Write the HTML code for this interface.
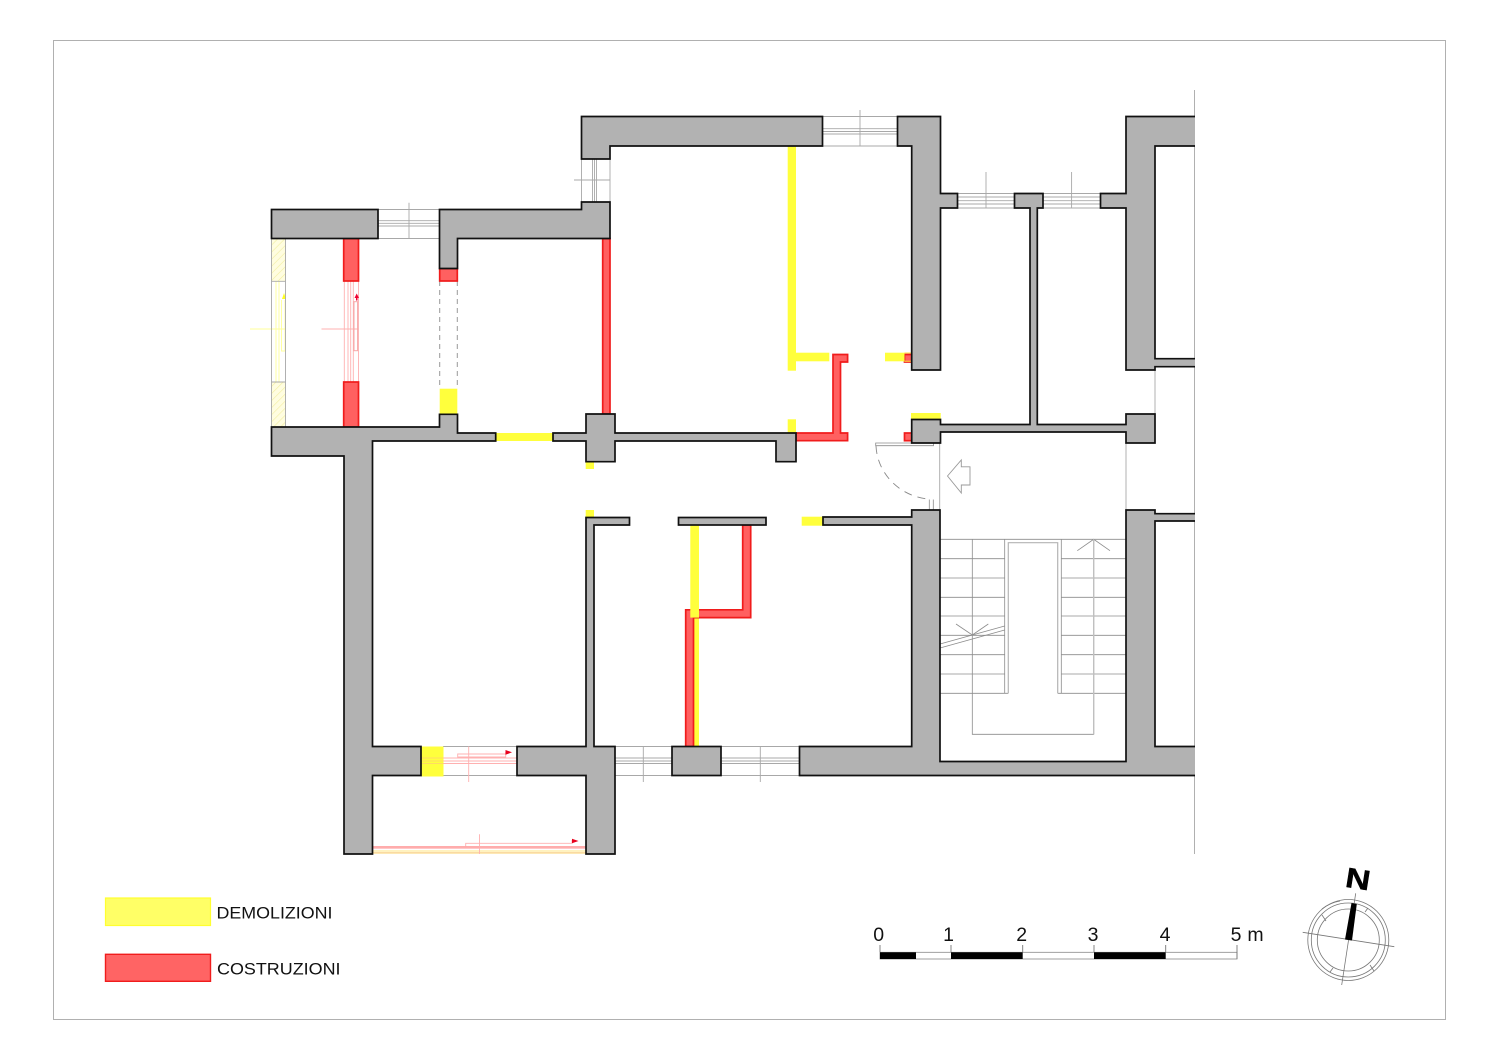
<!DOCTYPE html>
<html>
<head>
<meta charset="utf-8">
<title>Pianta</title>
<style>
html,body{margin:0;padding:0;background:#fff;width:1500px;height:1060px;overflow:hidden}
svg{display:block;font-family:"Liberation Sans",Arial,sans-serif}
.w{fill:#b2b2b2;stroke:#111;stroke-width:1.7;stroke-linejoin:miter}
.r{fill:#ff6060;stroke:#f01c1c;stroke-width:1.7}
.y{fill:#ffff3c;stroke:none}
.g{fill:none;stroke:#a8a8a8;stroke-width:.9}
.g2{fill:none;stroke:#8c8c8c;stroke-width:.8}
.p{fill:none;stroke:#ffb0b0;stroke-width:.9}
.py{fill:none;stroke:#ffff99;stroke-width:.9}
.t{fill:#111}
</style>
</head>
<body>
<svg width="1500" height="1060" viewBox="0 0 1500 1060" xmlns="http://www.w3.org/2000/svg">
<defs>
<clipPath id="c"><rect x="0" y="0" width="1195" height="1060"/></clipPath>
<pattern id="h" width="5" height="5" patternUnits="userSpaceOnUse" patternTransform="rotate(45)">
<rect width="5" height="5" fill="#fffde0"/><line x1="0" y1="0" x2="0" y2="5" stroke="#f2eea0" stroke-width="1.2"/>
</pattern>
</defs>

<rect x="53.5" y="40.5" width="1392" height="979" fill="none" stroke="#b0b0b0" stroke-width="1"/>

<!-- guide lines -->
<line class="g" x1="1194.5" y1="90" x2="1194.5" y2="854"/>
<line class="g" x1="939.7" y1="443" x2="939.7" y2="510"/>
<line class="g" x1="1126" y1="443" x2="1126" y2="510"/>
<line class="g" x1="1155" y1="370" x2="1155" y2="414"/>

<!-- windows -->
<g class="g">
<path d="M378 209.5H439.5M378 238.5H439.5M378 220.7H439.5M378 223.3H439.5M378 226H439.5"/>
<path d="M409 202.7V238.5"/>
<path d="M822.5 116.5H897.5M822.5 146H897.5M822.5 128.7H897.5M822.5 131.5H897.5M822.5 134H897.5"/>
<path d="M860 110V146"/>
<path d="M581.5 159V202M610 159V202M592.5 159V202M594.5 159V202M596.5 159V202"/>
<path d="M574 180H610"/>
<path d="M957.5 193.5H1014.5M957.5 208H1014.5M957.5 197H1014.5M957.5 200.7H1014.5M957.5 204H1014.5"/>
<path d="M986 172V208"/>
<path d="M1043 193.5H1100.5M1043 208H1100.5M1043 197H1100.5M1043 200.7H1100.5M1043 204H1100.5"/>
<path d="M1071.6 172V208"/>
<path d="M615 746.5H672M615 775.5H672M615 758H672M615 761H672M615 763.5H672"/>
<path d="M643.3 746.5V782"/>
<path d="M721 746.5H799.5M721 775.5H799.5M721 758H799.5M721 761H799.5M721 763.5H799.5"/>
<path d="M760.3 746.5V782"/>
<path d="M443 746.5H517M443 775.5H517"/>
</g>

<!-- left yellow window -->
<rect x="271.5" y="238.5" width="14" height="42.5" fill="url(#h)"/>
<rect x="271.5" y="382" width="14" height="45" fill="url(#h)"/>
<path class="py" d="M250 329H285M276 281V382M279 281V382M281.5 300V351H285V300"/>
<path d="M284 293L286 299H282Z" fill="#ffff20"/>
<path class="g" d="M271.5 238.5V427M285.5 238.5V427M271.5 281.3H285.5M271.5 382H285.5"/>

<!-- red window -->
<path class="p" d="M344.3 281V382M348 281V382M350.7 281V382M353.3 281V382M358.5 281V382M321.5 329H358.5"/>
<rect x="354" y="301.7" width="3.6" height="49" fill="none" stroke="#f6a8a8" stroke-width="1"/>
<path d="M356.7 293.5L359 298H357.5V300.5H356V298H354.5Z" fill="#f00030"/>

<!-- dashed opening -->
<path d="M439.7 281V389M457.3 281V389" fill="none" stroke="#999" stroke-width="1" stroke-dasharray="5 4"/>

<!-- bottom window with pink -->
<path class="p" d="M421 758H517M421 761H517M421 763.5H517M468.7 746.5V782M505.7 754H457.7V757H505.7V752"/>
<path d="M505.5 750L512 752.3L505.5 754.8Z" fill="#e8001c"/>

<!-- balcony -->
<rect x="372.5" y="850" width="213.5" height="4" fill="#fff2c0"/>
<path d="M372.5 846.7H586M372.5 848H586" fill="none" stroke="#ff9090" stroke-width="1"/>
<path d="M372.5 852.8H586" fill="none" stroke="#f8cc90" stroke-width=".9"/>
<path class="p" d="M479.5 834.3V854M572 840V843.3H465.7V846.7"/>
<path d="M572 838.7L578.5 841L572 843.3Z" fill="#e8001c"/>

<!-- stairs -->
<g class="g2">
<path d="M940 539.3H1126M940 558.7H1004.7M940 578H1004.7M940 597.3H1004.7M940 616H1004.7M940 635.3H1004.7M940 654.7H1004.7M940 674H1004.7M940 693.3H1008.3"/>
<path d="M1061.3 558.7H1126M1061.3 578H1126M1061.3 597.3H1126M1061.3 616H1126M1061.3 635.3H1126M1061.3 654.7H1126M1061.3 674H1126M1057.7 693.3H1126"/>
<path d="M1004.7 539.3V693.3M1061.3 539.3V693.3"/>
<path d="M972.3 539.3V734.3H1093.7V539.3"/>
<path d="M1077.3 550.7L1093.7 539.3L1110 550.7"/>
<path d="M956 624L972.3 635L988.3 624"/>
<path d="M940 644L1004.7 626M940 648L1004.7 630"/>
</g>
<path d="M1008.3 693.3V542.7H1057.7V693.3" fill="none" stroke="#b4b4b4" stroke-width="1.2"/>
<path d="M1093.7 539.3V734.3" fill="none" stroke="#c0c0c0" stroke-width="1.4"/>

<!-- door + arrow -->
<path class="g2" d="M875.7 443H933.5V445.7H875.7ZM929.3 499.5V510M933.3 499.5V510"/>
<path d="M876 446A58 56 0 0 0 928 499" fill="none" stroke="#888" stroke-width=".9" stroke-dasharray="8 6"/>
<path d="M947.5 476L961.3 460V466.8H970V485H961.3V493Z" fill="#fff" stroke="#999" stroke-width=".9"/>

<!-- yellow under red strip, lower part -->
<rect class="y" x="690.3" y="617.6" width="8.7" height="128.9"/>

<!-- red -->
<path class="r" d="M685.7 609.8H742.7V525H750.7V617.6H693.5V746.5H685.7Z"/>
<rect class="r" x="343.7" y="238.5" width="14.8" height="42.5"/>
<rect class="r" x="343.7" y="382" width="14.8" height="45"/>
<rect class="r" x="439.7" y="268.5" width="17.6" height="12.5"/>
<rect class="r" x="602.7" y="238.5" width="7.3" height="175.5"/>
<path class="r" d="M833 354.5H847.6V362H840.5V433H847.6V440.7H796V433H833Z"/>
<rect class="r" x="904.5" y="354.5" width="7.5" height="7.5"/>
<rect class="r" x="904.5" y="433" width="7.5" height="7.7"/>

<!-- yellow -->
<rect class="y" x="787.7" y="146" width="8.3" height="224.7"/>
<rect class="y" x="796" y="352.7" width="33.3" height="8.6"/>
<rect class="y" x="787.7" y="419.3" width="8.3" height="14"/>
<rect class="y" x="885" y="352.7" width="19.5" height="8.6"/>
<path d="M904.5 353H912M904.5 361.3H912" stroke="#ffe040" stroke-width="1" fill="none"/>
<rect class="y" x="911" y="413" width="29.7" height="6.5"/>
<rect class="y" x="495.7" y="433" width="57.3" height="8"/>
<rect class="y" x="439.7" y="388.7" width="17.6" height="25.5"/>
<rect class="y" x="585.7" y="462" width="8.3" height="7"/>
<rect class="y" x="585.7" y="510" width="8.3" height="7.5"/>
<rect class="y" x="801.7" y="516.7" width="21" height="9"/>
<rect class="y" x="690.3" y="525" width="8.7" height="92.6"/>
<rect class="y" x="421.3" y="746.5" width="22.2" height="30"/>
<path d="M421 758H443.5M421 761H443.5M421 763.5H443.5" stroke="#ffd070" stroke-width=".8" fill="none"/>

<!-- walls -->
<g clip-path="url(#c)">
<rect class="w" x="271.5" y="209.5" width="106.5" height="29"/>
<path class="w" d="M439.5 209.5H581.5V202H610V238.5H457.5V268.5H439.5Z"/>
<path class="w" d="M271.5 427H439.5V414.3H457.5V433H495.7V441H372.5V746.5H421V775.5H372.5V854H344V456H271.5Z"/>
<path class="w" d="M553 433H586V414H615V433H796V461.7H776V441H615V461.7H586V441H553Z"/>
<path class="w" d="M581.5 116.5H822.5V146H610V159H581.5Z"/>
<path class="w" d="M897.5 116.5H940.5V193.5H957.5V208H940.5V370H911.7V146H897.5Z"/>
<path class="w" d="M1014.5 193.5H1043V208H1037.3V424.5H1126V414H1155V443H1126V432H940.5V443H911.7V419.5H940.5V424.5H1030V208H1014.5Z"/>
<path class="w" d="M1100.5 193.5H1126V116.5H1200V146H1155V358.7H1200V366.7H1155V370H1126V208H1100.5Z"/>
<path class="w" d="M823 517H911.7V510H940V761.5H1126V510H1155V513.7H1200V521H1155V746.5H1200V775.5H799.5V746.5H911.7V525H823Z"/>
<path class="w" d="M586 517.5H629.5V525H594V746.5H615V854H586V775.5H517V746.5H586Z"/>
<rect class="w" x="678.5" y="517.5" width="87.5" height="7.5"/>
<rect class="w" x="672" y="746.5" width="49" height="29"/>
</g>

<!-- legend -->
<rect x="105.5" y="898" width="105" height="27.5" fill="#ffff66" stroke="#ffff30" stroke-width="1.2"/>
<rect x="105.5" y="954.3" width="105" height="27" fill="#ff6464" stroke="#f01c1c" stroke-width="1.4"/>
<text class="t" x="216.5" y="918.3" font-size="17" textLength="116" lengthAdjust="spacingAndGlyphs">DEMOLIZIONI</text>
<text class="t" x="217" y="974.3" font-size="17" textLength="123.5" lengthAdjust="spacingAndGlyphs">COSTRUZIONI</text>

<!-- scale bar -->
<rect x="880" y="952.3" width="357" height="6.7" fill="#fff" stroke="#888" stroke-width=".8"/>
<rect x="880" y="952.3" width="36" height="6.7" fill="#000"/>
<rect x="951" y="952.3" width="71.7" height="6.7" fill="#000"/>
<rect x="1094" y="952.3" width="71.7" height="6.7" fill="#000"/>
<path d="M880 945V952M951 945V952M1022.7 945V952M1094 945V952M1165.7 945V952M1237 945V959" stroke="#777" stroke-width=".9" fill="none"/>
<g class="t" font-size="19.5" text-anchor="middle">
<text x="878.7" y="941">0</text>
<text x="948.5" y="941">1</text>
<text x="1021.7" y="941">2</text>
<text x="1093" y="941">3</text>
<text x="1165" y="941">4</text>
<text x="1236" y="941">5</text>
<text x="1255.5" y="941">m</text>
</g>

<!-- compass -->
<g fill="none" stroke="#777" stroke-width=".8">
<circle cx="1348.3" cy="940" r="40.5"/>
<circle cx="1348.3" cy="940" r="37"/>
<circle cx="1348.3" cy="940" r="31"/>
<path d="M1322 909A40 40 0 0 1 1340 901M1322 915L1326 921M1374 971L1370 965M1330 972L1333 968M1368 908L1365 912"/>
<path d="M1302.7 932.3L1394.3 946.7M1355.7 893.3L1341.7 985"/>
</g>
<path d="M1351.5 903L1356.8 904L1352 940.5L1345 939.5Z" fill="#000"/>
<text x="0" y="0" font-size="28" font-weight="bold" fill="#000" stroke="#000" stroke-width=".5" text-anchor="middle" transform="translate(1356.5 888.5) rotate(9) scale(1.22 1)">N</text>
</svg>
</body>
</html>
